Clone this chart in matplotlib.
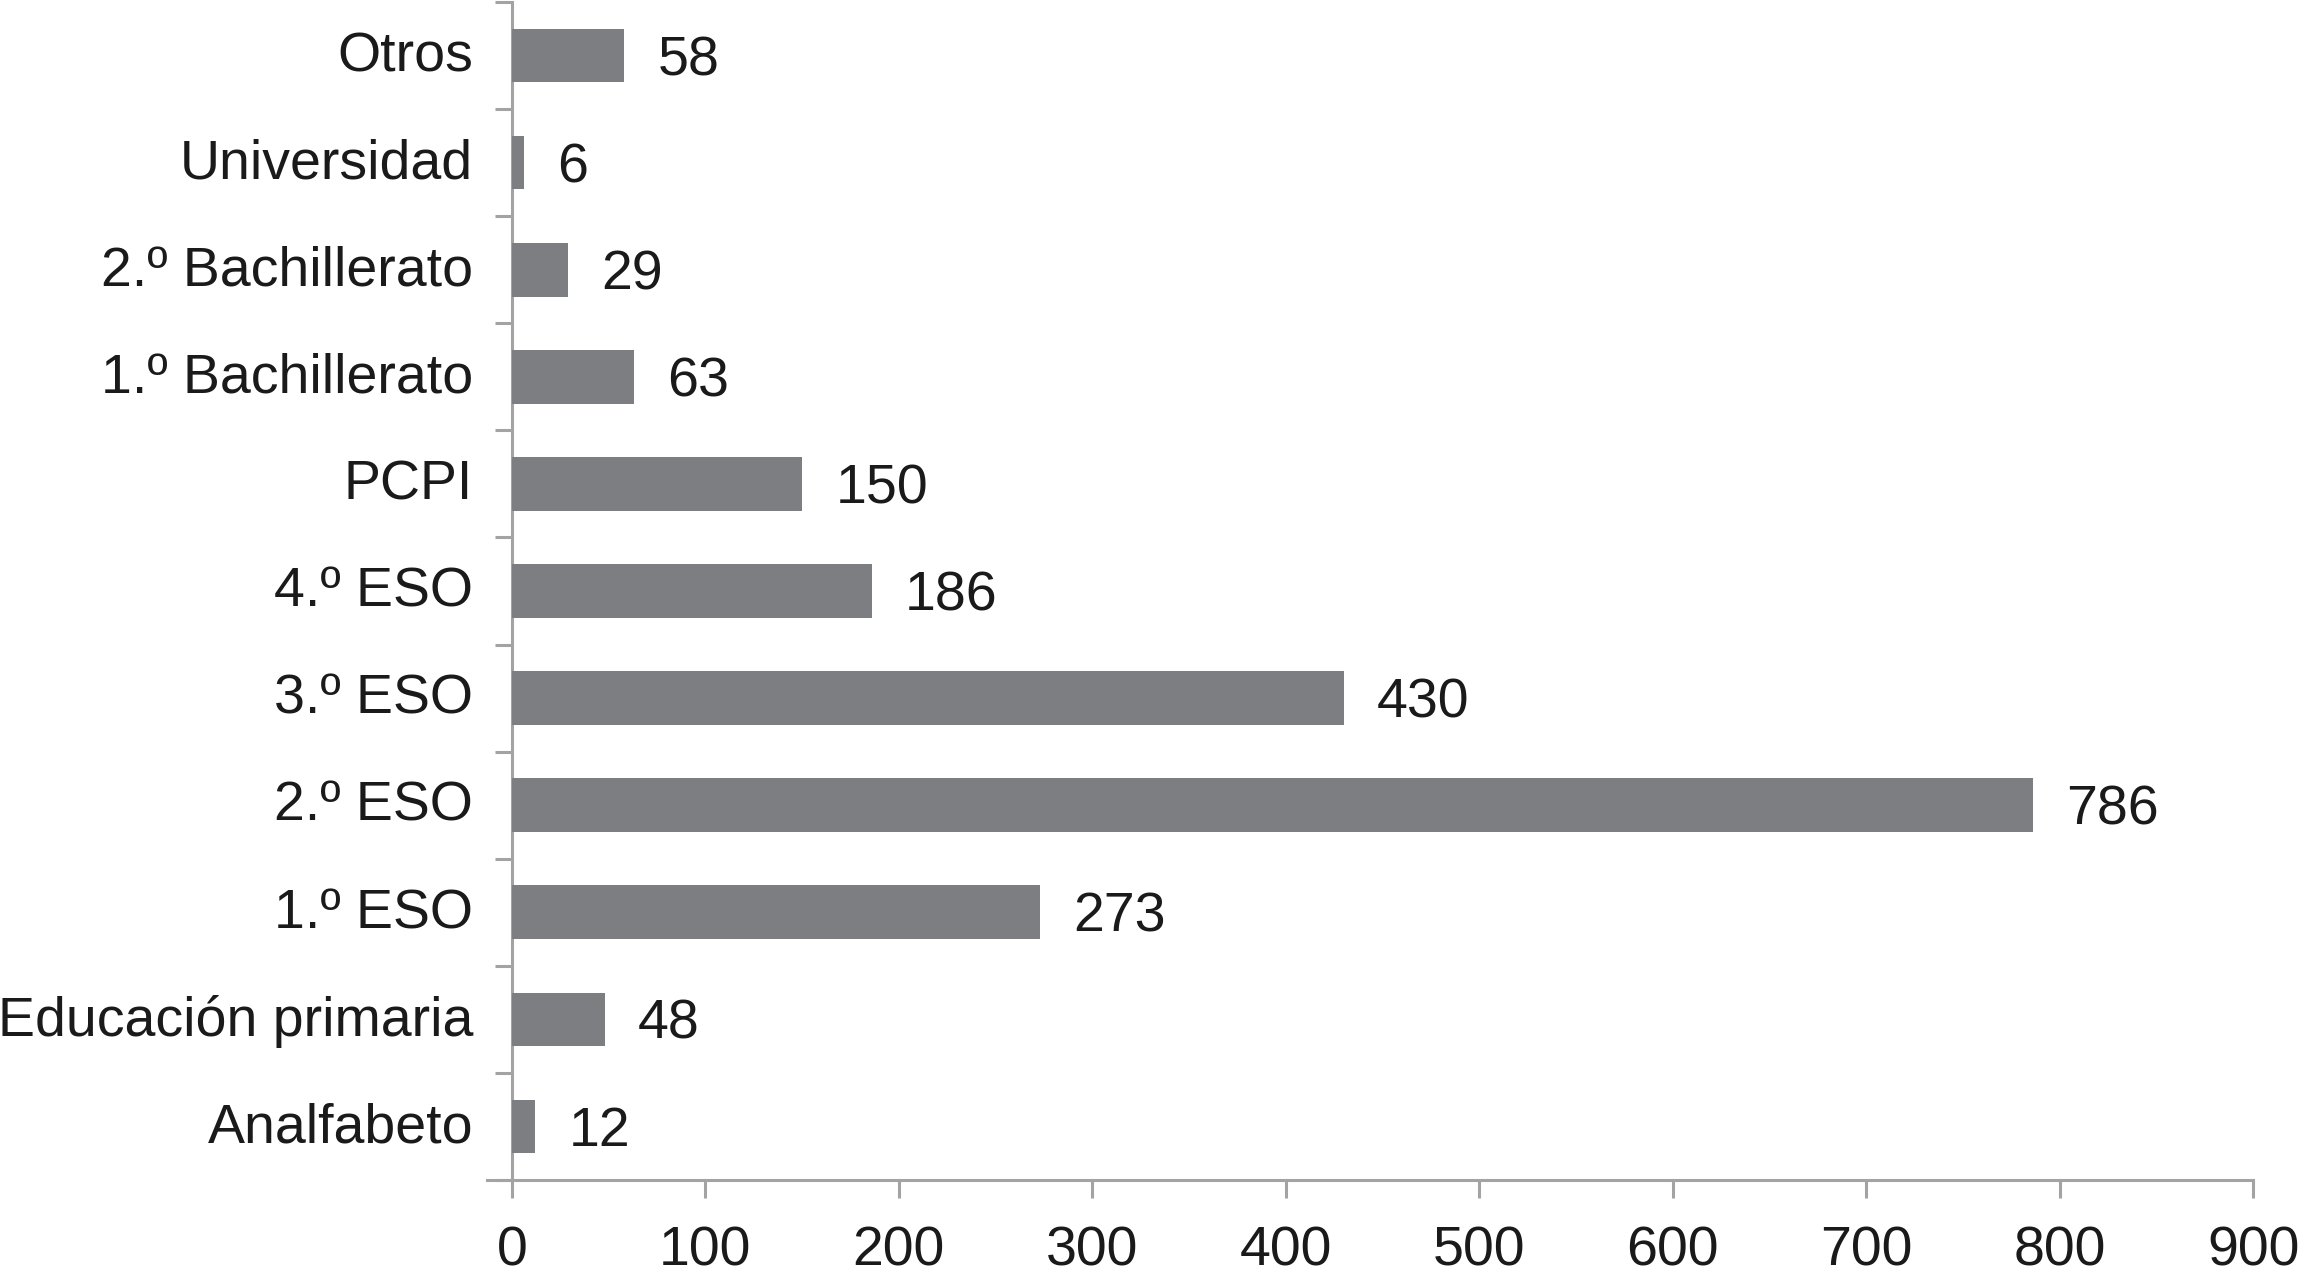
import numpy as np
import matplotlib
matplotlib.use("Agg")
import matplotlib.pyplot as plt
import matplotlib.transforms as mtransforms

# ── Data ───────────────────────────────────────────────────────────────────
CATEGORIES = [
    "Analfabeto", "Educación primaria", "1.º ESO", "2.º ESO", "3.º ESO",
    "4.º ESO", "PCPI", "1.º Bachillerato", "2.º Bachillerato",
    "Universidad", "Otros",
]
COUNTS = [12, 48, 273, 786, 430, 186, 150, 63, 29, 6, 58]
X_TICKS = [0, 100, 200, 300, 400, 500, 600, 700, 800, 900]

# ── Style ──────────────────────────────────────────────────────────────────
plt.rcParams["font.family"] = ["Liberation Sans", "DejaVu Sans"]
BAR_COLOR = "#7d7e82"
AXIS_COLOR = "#a3a3a3"
FONT_SIZE = 40

fig = plt.figure(figsize=(23.04, 12.82), dpi=100)
ax = fig.add_axes([0.2222, 0.0796, 0.9779 - 0.2222, 0.9984 - 0.0796])

y = np.arange(len(CATEGORIES))
bars = ax.barh(y, COUNTS, height=0.5, color=BAR_COLOR, zorder=3)

for bar, val in zip(bars, COUNTS):
    ax.annotate(
        f"{val}",
        xy=(bar.get_width(), bar.get_y() + bar.get_height() / 2),
        xytext=(24, -4), textcoords="offset points",
        ha="left", va="center", fontsize=FONT_SIZE, color="#1a1a1a",
    )

ax.set_xlim(0, 900)
ax.set_ylim(-0.5, len(CATEGORIES) - 0.5)

ax.set_xticks(X_TICKS)
ax.set_xticklabels([str(t) for t in X_TICKS], fontsize=FONT_SIZE, color="#1a1a1a")

# major y ticks on category boundaries, labels on minor ticks at centres
ax.set_yticks(np.arange(-0.5, len(CATEGORIES), 1.0))
ax.set_yticklabels([])
ax.set_yticks(y, minor=True)
ax.set_yticklabels(CATEGORIES, minor=True, fontsize=FONT_SIZE, color="#1a1a1a")

ax.tick_params(axis="y", which="major", length=12, width=2.2, color=AXIS_COLOR)
ax.tick_params(axis="y", which="minor", length=0, pad=28)
ax.tick_params(axis="x", which="major", length=13, width=2.2, color=AXIS_COLOR, pad=20)

# nudge category labels up a little
shift = mtransforms.ScaledTranslation(0, 3 / 72, fig.dpi_scale_trans)
for lbl in ax.get_yticklabels(minor=True):
    lbl.set_transform(lbl.get_transform() + shift)

for side in ("top", "right"):
    ax.spines[side].set_visible(False)
for side in ("left", "bottom"):
    ax.spines[side].set_color(AXIS_COLOR)
    ax.spines[side].set_linewidth(2.2)
ax.spines["bottom"].set_bounds(-13, 900)

fig.savefig("out.png", dpi=100)
